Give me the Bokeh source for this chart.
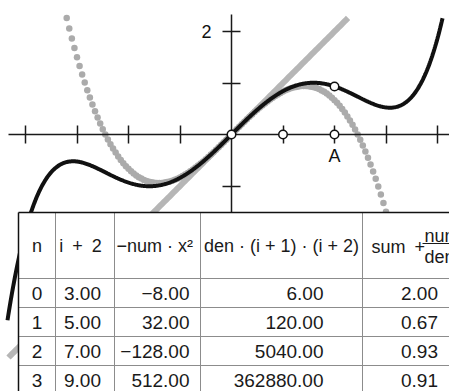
import numpy as np
from bokeh.plotting import figure
from bokeh.models import Range1d, FixedTicker
from bokeh.core.properties import value
from bokeh.embed import file_html
from bokeh.resources import INLINE

# Taylor series of sin(x): odd degrees and their coefficients
degrees = [1, 3, 5]
coefficients = [1.0, -1.0 / 6.0, 1.0 / 120.0]

# evaluation point and axis marks
x_eval = 2.0
axis_points = [0.0, 1.0, 2.0]
x_ticks = [-4, -3, -2, -1, 1, 2, 3, 4]
y_ticks = [-2, -1, 1, 2]

# iteration table
n_vals = [0, 1, 2, 3]
i_plus_2 = [3.0, 5.0, 7.0, 9.0]
neg_num_x2 = [-8.0, 32.0, -128.0, 512.0]
den_vals = [6.0, 120.0, 5040.0, 362880.0]
sum_vals = [2.00, 0.67, 0.93, 0.91]

FONT = "Liberation Sans"
Y_CLIP = 2.3

# pixel layout -> data units (origin and unit length on screen)
X0, Y0, UNIT = 231.0, 134.0, 51.5
W, H = 449, 391


def dx(px):
    return (px - X0) / UNIT


def dy(py):
    return (Y0 - py) / UNIT


def partial_sum(x, terms):
    return sum(c * x ** d for d, c in zip(degrees[:terms], coefficients[:terms]))


def clipped(xs, ys):
    keep = ys <= Y_CLIP
    return xs[keep], ys[keep]


def fmt(v):
    s = f"{abs(v):.2f}"
    return ("\u2212" + s) if v < 0 else s


p = figure(width=W, height=H, output_backend="svg", toolbar_location=None,
           x_range=Range1d(dx(0), dx(W)), y_range=Range1d(dy(H), dy(0)),
           min_border=0, outline_line_color=None)
p.grid.visible = False
p.background_fill_color = "white"
p.border_fill_color = "white"

# first-order approximation: y = x
xl = np.linspace(dx(8), 3.0, 200)
xl, yl = clipped(xl, partial_sum(xl, 1))
p.line(xl, yl, line_color="#b6b6b6", line_width=6)

# third-order approximation, drawn as dots
xd = np.arange(-3.5, 3.6, 0.05)
xd, yd = clipped(xd, partial_sum(xd, 2))
p.scatter(xd, yd, size=6.5, fill_color="#ababab", line_color=None)

# fifth-order approximation
xc = np.linspace(dx(7), 4.3, 600)
xc, yc = clipped(xc, partial_sum(xc, 3))
p.line(xc, yc, line_color="#111111", line_width=4)

# axes through the origin
for ax in (p.xaxis[0], p.yaxis[0]):
    ax.fixed_location = 0
    ax.axis_line_color = "#1a1a1a"
    ax.axis_line_width = 1.5
    ax.major_tick_line_color = "#1a1a1a"
    ax.major_tick_line_width = 1.5
    ax.major_tick_in = 9
    ax.major_tick_out = 9
    ax.minor_tick_line_color = None
    ax.major_label_text_font = FONT
    ax.major_label_text_font_size = "18px"
    ax.major_label_text_color = "#111111"
    ax.major_label_text_font_style = "normal"

p.xaxis.ticker = FixedTicker(ticks=x_ticks)
p.xaxis.bounds = (dx(8), dx(W + 10))
p.xaxis.major_label_overrides = {t: ("A" if t == 2 else "") for t in x_ticks}
p.xaxis.major_label_standoff = 2

p.yaxis.ticker = FixedTicker(ticks=y_ticks)
p.yaxis.bounds = (dy(H + 10), dy(14))
p.yaxis.major_label_overrides = {t: ("2" if t == 2 else "") for t in y_ticks}
p.yaxis.major_label_standoff = 11

# marked points
px_pts = axis_points + [x_eval]
py_pts = [0.0, 0.0, 0.0, float(partial_sum(x_eval, 3))]
p.scatter(px_pts, py_pts, size=8.5, fill_color="white", line_color="#111111",
          line_width=1.5, level="overlay")

# ---- table ----
T_LEFT, T_TOP, T_RIGHT, T_BOTTOM = 18, 212, 520, 400
col_lines = [55, 114, 200, 362]
row_lines = [278, 307, 336, 365]
header_mid = 245
row_mid = [292.5, 321.5, 350.5, 379.5]

p.quad(left=[dx(T_LEFT)], right=[dx(T_RIGHT)], top=[dy(T_TOP)], bottom=[dy(T_BOTTOM)],
       fill_color="white", line_color=None, level="overlay")
p.segment(x0=[dx(c) for c in col_lines], y0=[dy(T_TOP)] * len(col_lines),
          x1=[dx(c) for c in col_lines], y1=[dy(T_BOTTOM)] * len(col_lines),
          line_color="#8c8c8c", line_width=1, level="overlay")
p.segment(x0=[dx(T_LEFT)] * len(row_lines), y0=[dy(r) for r in row_lines],
          x1=[dx(T_RIGHT)] * len(row_lines), y1=[dy(r) for r in row_lines],
          line_color="#8c8c8c", line_width=1, level="overlay")
p.segment(x0=[dx(T_LEFT), dx(T_LEFT)], y0=[dy(T_TOP), dy(T_TOP)],
          x1=[dx(T_RIGHT), dx(T_LEFT)], y1=[dy(T_TOP), dy(T_BOTTOM)],
          line_color="#111111", line_width=1.5, level="overlay")


def cell_text(xs, ys, texts, align, size="18px"):
    p.text(x=xs, y=ys, text=texts, text_font=value(FONT), text_font_size=size,
           text_color="#1a1a1a", text_align=align, text_baseline="middle",
           level="overlay")


# header
EN = "\u2002"
cell_text([dx(36.5), dx(80)], [dy(header_mid)] * 2, ["n", f"i{EN}+{EN}2"], "center")
cell_text([dx(116)], [dy(header_mid)], ["\u2212num \u00b7 x\u00b2"], "left")
cell_text([dx(281)], [dy(header_mid)], ["den \u00b7 (i + 1) \u00b7 (i + 2)"], "center")
cell_text([dx(371)], [dy(header_mid + 1)], [f"sum{EN}+"], "left")
cell_text([dx(424)], [dy(header_mid - 10)], ["num"], "left")
cell_text([dx(424)], [dy(header_mid + 11)], ["den"], "left")
p.segment(x0=[dx(422)], y0=[dy(243)], x1=[dx(470)], y1=[dy(243)],
          line_color="#1a1a1a", line_width=1.2, level="overlay")

# body
ys = [dy(r) for r in row_mid]
BODY = "19px"
cell_text([dx(36.5)] * 4, ys, [str(v) for v in n_vals], "center", BODY)
cell_text([dx(82)] * 4, ys, [fmt(v) for v in i_plus_2], "center", BODY)
cell_text([dx(189)] * 4, ys, [fmt(v) for v in neg_num_x2], "right", BODY)
cell_text([dx(323)] * 4, ys, [fmt(v) for v in den_vals], "right", BODY)
cell_text([dx(419)] * 4, ys, [fmt(v) for v in sum_vals], "center", BODY)

open("out.html", "w").write(file_html(p, INLINE))
